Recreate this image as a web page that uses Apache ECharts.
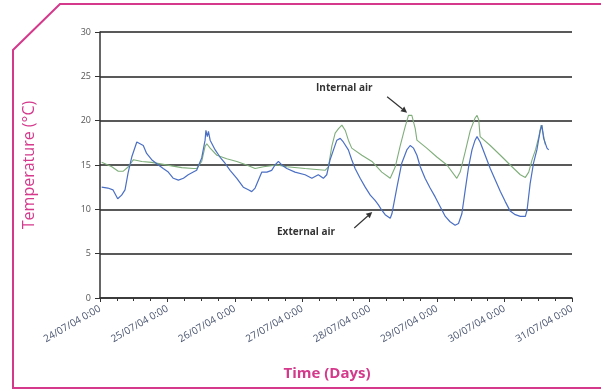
<!DOCTYPE html>
<html><head><meta charset="utf-8">
<script src="https://cdn.jsdelivr.net/npm/echarts@6/dist/echarts.min.js"></script>
<style>html,body{margin:0;padding:0;background:#fff}#c{width:601px;height:390px}</style>
</head><body><div id="c"></div>
<script>
// Time in hours from 24/07/04 0:00
const tickLabels = ['24/07/04 0:00','25/07/04 0:00','26/07/04 0:00','27/07/04 0:00','28/07/04 0:00','29/07/04 0:00','30/07/04 0:00','31/07/04 0:00'];
const yTicks = [0,5,10,15,20,25,30];

const extHours = [0.6,2.8,4.6,6.3,7.7,8.9,10.0,11.3,13.1,13.6,15.4,16.6,18.4,20.8,22.5,24.3,26.1,27.9,29.7,31.4,33.2,34.4,36.2,37.4,37.7,38.2,38.6,39.2,41.0,42.7,44.5,46.3,48.7,51.0,52.8,54.0,55.2,56.4,57.6,59.4,61.1,62.3,63.5,64.7,66.5,69.4,73.0,75.4,77.7,79.5,80.7,81.9,83.1,84.3,85.5,86.6,88.4,89.6,90.8,92.6,94.4,96.2,97.9,99.1,100.3,101.5,103.3,103.9,105.7,107.4,109.2,110.4,111.6,112.8,114.0,115.7,117.5,119.3,121.1,122.9,124.6,126.4,127.6,128.8,130.0,131.2,132.4,133.5,134.2,134.7,135.3,137.1,138.9,140.7,142.5,144.2,146.0,147.8,149.6,151.4,152.0,153.1,154.3,155.5,156.7,157.3,157.9,159.1,159.7];
const extTemp = [12.5,12.4,12.2,11.2,11.6,12.2,14.1,15.9,17.6,17.8,17.2,16.3,15.6,15.0,14.6,14.2,13.5,13.3,13.5,13.9,14.2,14.4,15.8,17.8,18.9,18.2,18.8,17.8,16.7,15.9,15.2,14.4,13.5,12.5,12.2,12.0,12.4,13.3,14.2,14.2,14.4,15.0,15.4,15.0,14.6,14.2,13.9,13.5,13.9,13.5,13.9,15.6,16.7,17.8,18.0,17.6,16.7,15.6,14.6,13.5,12.5,11.6,11.0,10.5,9.9,9.4,9.0,9.5,12.5,15.2,16.7,17.2,16.9,16.1,14.8,13.5,12.4,11.4,10.3,9.2,8.6,8.2,8.4,9.5,12.2,14.8,16.7,17.8,18.2,18.0,17.6,16.1,14.6,13.3,12.0,10.9,9.8,9.4,9.2,9.2,9.9,12.9,15.2,16.7,18.9,19.5,18.0,16.9,16.7];

const intHours = [0.6,4.2,6.5,8.3,10.1,11.9,14.9,18.4,22.0,25.5,29.1,33.2,34.4,36.2,37.4,38.0,39.2,41.6,45.1,48.7,52.2,55.2,58.2,62.9,66.5,73.0,80.1,81.3,82.5,83.7,84.9,86.1,87.3,88.4,89.6,93.2,96.8,100.3,103.3,105.1,106.8,108.6,109.8,111.0,112.2,112.8,116.3,119.9,123.5,127.0,128.2,130.0,131.8,133.5,134.2,134.8,135.3,138.9,142.5,146.0,149.6,151.4,152.6,153.8,155.0,156.2,157.0,157.7,158.5];
const intTemp = [15.3,14.8,14.3,14.3,14.8,15.6,15.4,15.3,15.1,14.9,14.7,14.6,14.6,15.4,17.1,17.4,16.9,16.1,15.7,15.4,15.0,14.6,14.8,15.0,14.8,14.6,14.4,14.8,17.1,18.6,19.1,19.5,18.9,17.8,16.9,16.1,15.4,14.2,13.5,14.8,17.1,19.3,20.6,20.6,19.1,17.8,16.9,15.9,15.0,13.5,14.2,16.5,18.9,20.3,20.6,20.1,18.2,17.2,16.1,15.0,13.9,13.6,14.2,15.6,16.7,18.2,19.5,18.6,17.3];

// annotations in data units [hours, °C]
const internalLabel = {text:'Internal air', at:[76.9,23.7], tail:[102.2,22.7], tip:[109.3,20.9]};
const externalLabel = {text:'External air', at:[63.0,7.4], tail:[90.5,7.9], tip:[96.9,9.7]};

const zip = (a,b)=>a.map((h,i)=>[h,b[i]]);
const chart = echarts.init(document.getElementById('c'), null, {renderer:'canvas'});
const magenta = '#d4398c';
chart.setOption({
  animation:false,
  grid:{left:100,right:29,top:32,bottom:92},
  xAxis:{type:'value',min:0,max:168,interval:24,
    axisLine:{lineStyle:{color:'#333',width:1.5}},
    axisTick:{show:true,length:4,lineStyle:{color:'#333'}},
    minorTick:{show:true,splitNumber:4,length:3,lineStyle:{color:'#333'}},
    splitLine:{show:false},
    axisLabel:{rotate:30,fontSize:10,color:'#4a5570',fontFamily:'Open Sans',margin:10,
      formatter:v=>tickLabels[Math.round(v/24)]},
    name:'Time (Days)',nameLocation:'middle',nameGap:68,
    nameTextStyle:{color:magenta,fontSize:15,fontFamily:'Open Sans',fontWeight:'bold',padding:[0,18,0,0]}
  },
  yAxis:{type:'value',min:0,max:30,interval:5,
    axisLine:{show:true,lineStyle:{color:'#333',width:1.5}},
    axisTick:{show:true,length:5,lineStyle:{color:'#333'}},
    splitLine:{lineStyle:{color:'#222',width:1.6}},
    axisLabel:{fontSize:9,color:'#555',fontFamily:'Open Sans',margin:9,
      formatter:v=>yTicks.includes(v)?String(v):''},
    name:'Temperature (°C)',nameLocation:'middle',nameGap:63,
    nameTextStyle:{color:magenta,fontSize:16,fontFamily:'Open Sans',fontWeight:500}
  },
  series:[
    {name:'Internal air',type:'line',data:zip(intHours,intTemp),showSymbol:false,
      lineStyle:{color:'#7fae7a',width:1.1},z:2},
    {name:'External air',type:'line',data:zip(extHours,extTemp),showSymbol:false,
      lineStyle:{color:'#4a6fc4',width:1.2},z:3}
  ]
});

function arrow(a){
  const p0 = chart.convertToPixel({gridIndex:0}, a.tail);
  const p1 = chart.convertToPixel({gridIndex:0}, a.tip);
  const ang = Math.atan2(p1[1]-p0[1], p1[0]-p0[0]);
  const L=6, W=3;
  const bx = p1[0]-L*Math.cos(ang), by = p1[1]-L*Math.sin(ang);
  return [
    {type:'line',shape:{x1:p0[0],y1:p0[1],x2:bx,y2:by},style:{stroke:'#333',lineWidth:1.2}},
    {type:'polygon',shape:{points:[[p1[0],p1[1]],[bx+W*Math.sin(ang),by-W*Math.cos(ang)],[bx-W*Math.sin(ang),by+W*Math.cos(ang)]]},style:{fill:'#333'}}
  ];
}
function label(a){
  const p = chart.convertToPixel({gridIndex:0}, a.at);
  return {type:'text',x:p[0],y:p[1],style:{text:a.text,fill:'#333',font:'bold 10px "Open Sans"',textVerticalAlign:'middle'}};
}
chart.setOption({graphic:[
  {type:'polyline',shape:{points:[[601,4],[60,4],[13,50],[13,388],[601,388]]},style:{stroke:magenta,lineWidth:2,fill:null}},
  label(internalLabel),...arrow(internalLabel),
  label(externalLabel),...arrow(externalLabel)
]});
</script></body></html>
